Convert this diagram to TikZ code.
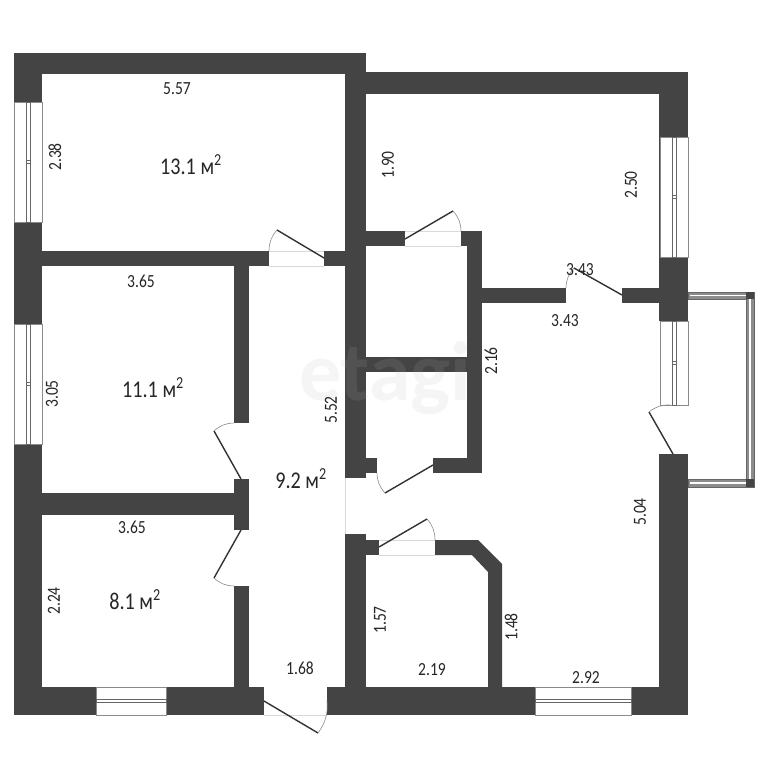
\documentclass[tikz,border=0pt]{standalone}
\usepackage{fontspec}
\setmainfont[FakeStretch=0.84]{Carlito}
\newfontfamily\markfont[BoldFont=Carlito Bold]{Carlito}
\definecolor{wallc}{HTML}{444444}
\definecolor{thinc}{HTML}{8A8A8A}
\definecolor{leafc}{HTML}{333333}
\tikzset{
  wall/.style={fill=wallc,draw=none},
  leaf/.style={draw=leafc,line width=1.4pt},
  swing/.style={draw=thinc,line width=.6pt},
  sill/.style={draw=black!15,line width=.7pt},
  winframe/.style={fill=white,draw=thinc,line width=.9pt},
  winbar/.style={fill=white,draw=black!60,line width=.7pt},
  dim/.style={font=\fontsize{18.5}{18.5}\selectfont,text=black!85,inner sep=0pt},
  dimr/.style={dim,rotate=90},
  area/.style={font=\fontsize{24}{24}\selectfont,text=black!85,inner sep=0pt},
  markstyle/.style={font=\markfont\bfseries\fontsize{84}{84}\selectfont,inner sep=0pt},
}
\newcommand{\vwin}[3]{% x-centre, y1, y2
  \path[winframe] (#1-14,#2) rectangle (#1+14,#3);
  \path[winbar] (#1-2,#2) rectangle (#1+2,#3);
  \path[winbar] (#1-2,{(#2+#3)/2-1.5}) rectangle (#1+2,{(#2+#3)/2+1.5});
}
\newcommand{\hwin}[3]{% y-centre, x1, x2
  \path[winframe] (#2,#1-14) rectangle (#3,#1+14);
  \path[winbar] (#2,#1-1.5) rectangle (#3,#1+1.5);
}
\begin{document}
\begin{tikzpicture}[x=1pt,y=-1pt]
\useasboundingbox[fill=white] (0,0) rectangle (768,768);
% watermark on paper
\node[markstyle,text=black!4] (markA) at (385,378) {etagi};
% outer walls
\path[wall] (14,53) rectangle (366,74);
\path[wall] (14,53) rectangle (42,715);
\path[wall] (14,687) rectangle (264,715);
\path[wall] (327,687) rectangle (688,715);
\path[wall] (345,53) rectangle (366,478);
\path[wall] (345,534) rectangle (366,715);
\path[wall] (366,72) rectangle (688,94);
\path[wall] (659,72) rectangle (688,321);
\path[wall] (659,454) rectangle (688,715);
% interior walls, left side
\path[wall] (42,251) rectangle (269,266);
\path[wall] (324,251) rectangle (345,266);
\path[wall] (234,266) rectangle (249,423);
\path[wall] (234,479) rectangle (249,530);
\path[wall] (234,586) rectangle (249,687);
\path[wall] (42,493) rectangle (234,515);
% closet, upper right
\path[wall] (366,231) rectangle (405,246);
\path[wall] (461,231) rectangle (482,246);
\path[wall] (467,246) rectangle (482,473);
\path[wall] (433,458) rectangle (467,473);
\path[wall] (366,458) rectangle (377,473);
\path[wall] (366,357) rectangle (467,372);
\path[wall] (482,288) rectangle (566,303);
\path[wall] (622,288) rectangle (659,303);
% closet, lower
\path[wall] (366,540) rectangle (379,555);
\path[wall] (435,540) -- (478,540) -- (502,564) -- (502,687) -- (488,687) -- (488,572) -- (472,555) -- (435,555) -- cycle;
% windows
\vwin{28}{102}{222}
\vwin{28}{324}{444}
\vwin{674}{137}{257}
\vwin{674}{321}{405}
\hwin{701}{96}{166}
\hwin{701}{535}{631}
% balcony
\path[fill=black!45,draw=black!60,line width=.5pt] (688,292) rectangle (754,299);
\path[fill=black!45,draw=black!60,line width=.5pt] (688,479) rectangle (754,487);
\path[fill=black!45,draw=black!60,line width=.5pt] (746,292) rectangle (754,487);
\draw[white,line width=1.1pt] (690,295.5) -- (747,295.5);
\draw[white,line width=1.1pt] (690,483) -- (747,483);
\draw[white,line width=1.1pt] (750,299) -- (750,479);
\path[fill=wallc] (746,292) rectangle (754,299);
\path[fill=wallc] (746,479) rectangle (754,487);
% thin jamb lines
\draw[sill] (269,251) -- (324,251) (269,266) -- (324,266);
\draw[sill] (405,231) -- (461,231) (405,246) -- (461,246);
\draw[sill] (379,540) -- (435,540) (379,555) -- (435,555);
\draw[sill] (264,715) -- (327,715);
\draw[sill] (345,478) -- (345,534);
% doors
\draw[leaf] (324,258) -- (277,230);
\draw[swing] (277,230) to[bend right=20] (269,251);
\draw[leaf] (405,239) -- (453,211);
\draw[swing] (453,211) to[bend left=20] (461,231);
\draw[leaf] (622,295) -- (574,268);
\draw[swing] (574,268) to[bend right=20] (566,288);
\draw[leaf] (241,479) -- (214,431);
\draw[swing] (214,431) to[bend left=20] (234,423);
\draw[leaf] (241,530) -- (214,578);
\draw[swing] (214,578) to[bend right=20] (234,586);
\draw[leaf] (433,465) -- (385,493);
\draw[swing] (385,493) to[bend left=20] (377,473);
\draw[leaf] (379,547) -- (427,519);
\draw[swing] (427,519) to[bend left=20] (435,540);
\draw[leaf] (264,701) -- (318,733);
\draw[swing] (318,733) to[bend right=20] (327,701);
\draw[leaf] (673,454) -- (649,412);
\draw[swing] (649,412) to[bend left=20] (670,405);
% watermark over walls
\node[markstyle,text=white,text opacity=.08] (markB) at (385,378) {etagi};
% labels
\node[dim] (d1) at (177,89) {5.57};
\node[area] (a1) at (191,165) {13.1 м\textsuperscript{2}};
\node[dimr] (d2) at (55,157) {2.38};
\node[dimr] (d3) at (388,165) {1.90};
\node[dimr] (d4) at (631,185) {2.50};
\node[dim] (d5) at (141,281) {3.65};
\node[dimr] (d6) at (52,394) {3.05};
\node[area] (a2) at (153,388) {11.1 м\textsuperscript{2}};
\node[dim] (d7) at (580,270) {3.43};
\node[dim] (d8) at (565,321) {3.43};
\node[dimr] (d9) at (491,361) {2.16};
\node[dimr] (d10) at (331,410) {5.52};
\node[area] (a3) at (301,479) {9.2 м\textsuperscript{2}};
\node[dimr] (d11) at (640,512) {5.04};
\node[dim] (d12) at (132,527) {3.65};
\node[dimr] (d13) at (54,601) {2.24};
\node[area] (a4) at (135,600) {8.1 м\textsuperscript{2}};
\node[dimr] (d14) at (380,620) {1.57};
\node[dimr] (d15) at (511,627) {1.48};
\node[dim] (d16) at (432,670) {2.19};
\node[dim] (d17) at (300,668) {1.68};
\node[dim] (d18) at (586,678) {2.92};
\end{tikzpicture}
\end{document}
